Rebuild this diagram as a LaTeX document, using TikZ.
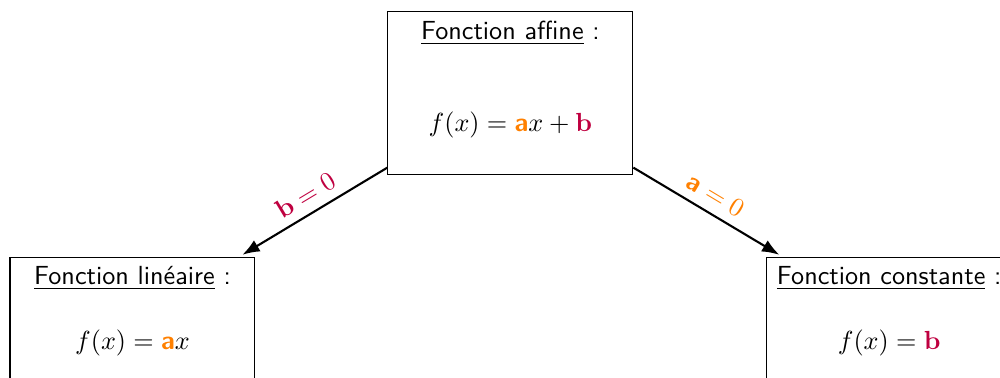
\documentclass[tikz,border=0pt]{standalone}
\usepackage{amsmath,amssymb}
\usepackage{xcolor}
\usepackage{tikz}
\usetikzlibrary{positioning,arrows.meta}

\newcommand{\coefa}{\textcolor{orange}{\textbf{\textsf{a}}}}
\newcommand{\coefb}{\textcolor{purple}{\mathbf{b}}}

\begin{document}
\begin{tikzpicture}[>=Latex,
  boite/.style={draw,inner sep=0pt,minimum width=3.287cm,minimum height=2.187cm},
  titre/.style={anchor=base,font=\sffamily},
  formule/.style={anchor=base}]
  \clip (0,0) rectangle (13.42,-5.07);
  % three boxes: affine on top, the two special cases below
  \node[boite] (affine) at (6.849,-1.254) {};
  \node[boite] (lineaire) at (1.778,-4.555) {};
  \node[boite] (constante) at (11.933,-4.555) {};
  \node[titre] (taffine) at ([yshift=-10.7pt]affine.north) {\underline{Fonction affine} :};
  \node[formule] (faffine) at ([yshift=-45.8pt]affine.north) {$f(x)=\coefa x+\coefb$};
  \node[titre] (tlineaire) at ([yshift=-10.3pt]lineaire.north) {\underline{Fonction linéaire} :};
  \node[formule] (flineaire) at ([yshift=-35.1pt]lineaire.north) {$f(x)=\coefa x$};
  \node[titre] (tconstante) at ([yshift=-10.3pt]constante.north) {\underline{Fonction constante} :};
  \node[formule] (fconstante) at ([yshift=-35.1pt]constante.north) {$f(x)=\coefb$};
  % arrows with the condition on the coefficient
  \draw[->,thick] ([yshift=3pt]affine.south west) -- ([xshift=-5pt,yshift=1pt]lineaire.north east)
    node[midway,above,sloped,purple] {$\mathbf{b}=0$};
  \draw[->,thick] ([yshift=3pt]affine.south east) -- ([xshift=5pt,yshift=1pt]constante.north west)
    node[midway,above,sloped,orange] {$\textbf{\textsf{a}}=0$};
\end{tikzpicture}
\end{document}
